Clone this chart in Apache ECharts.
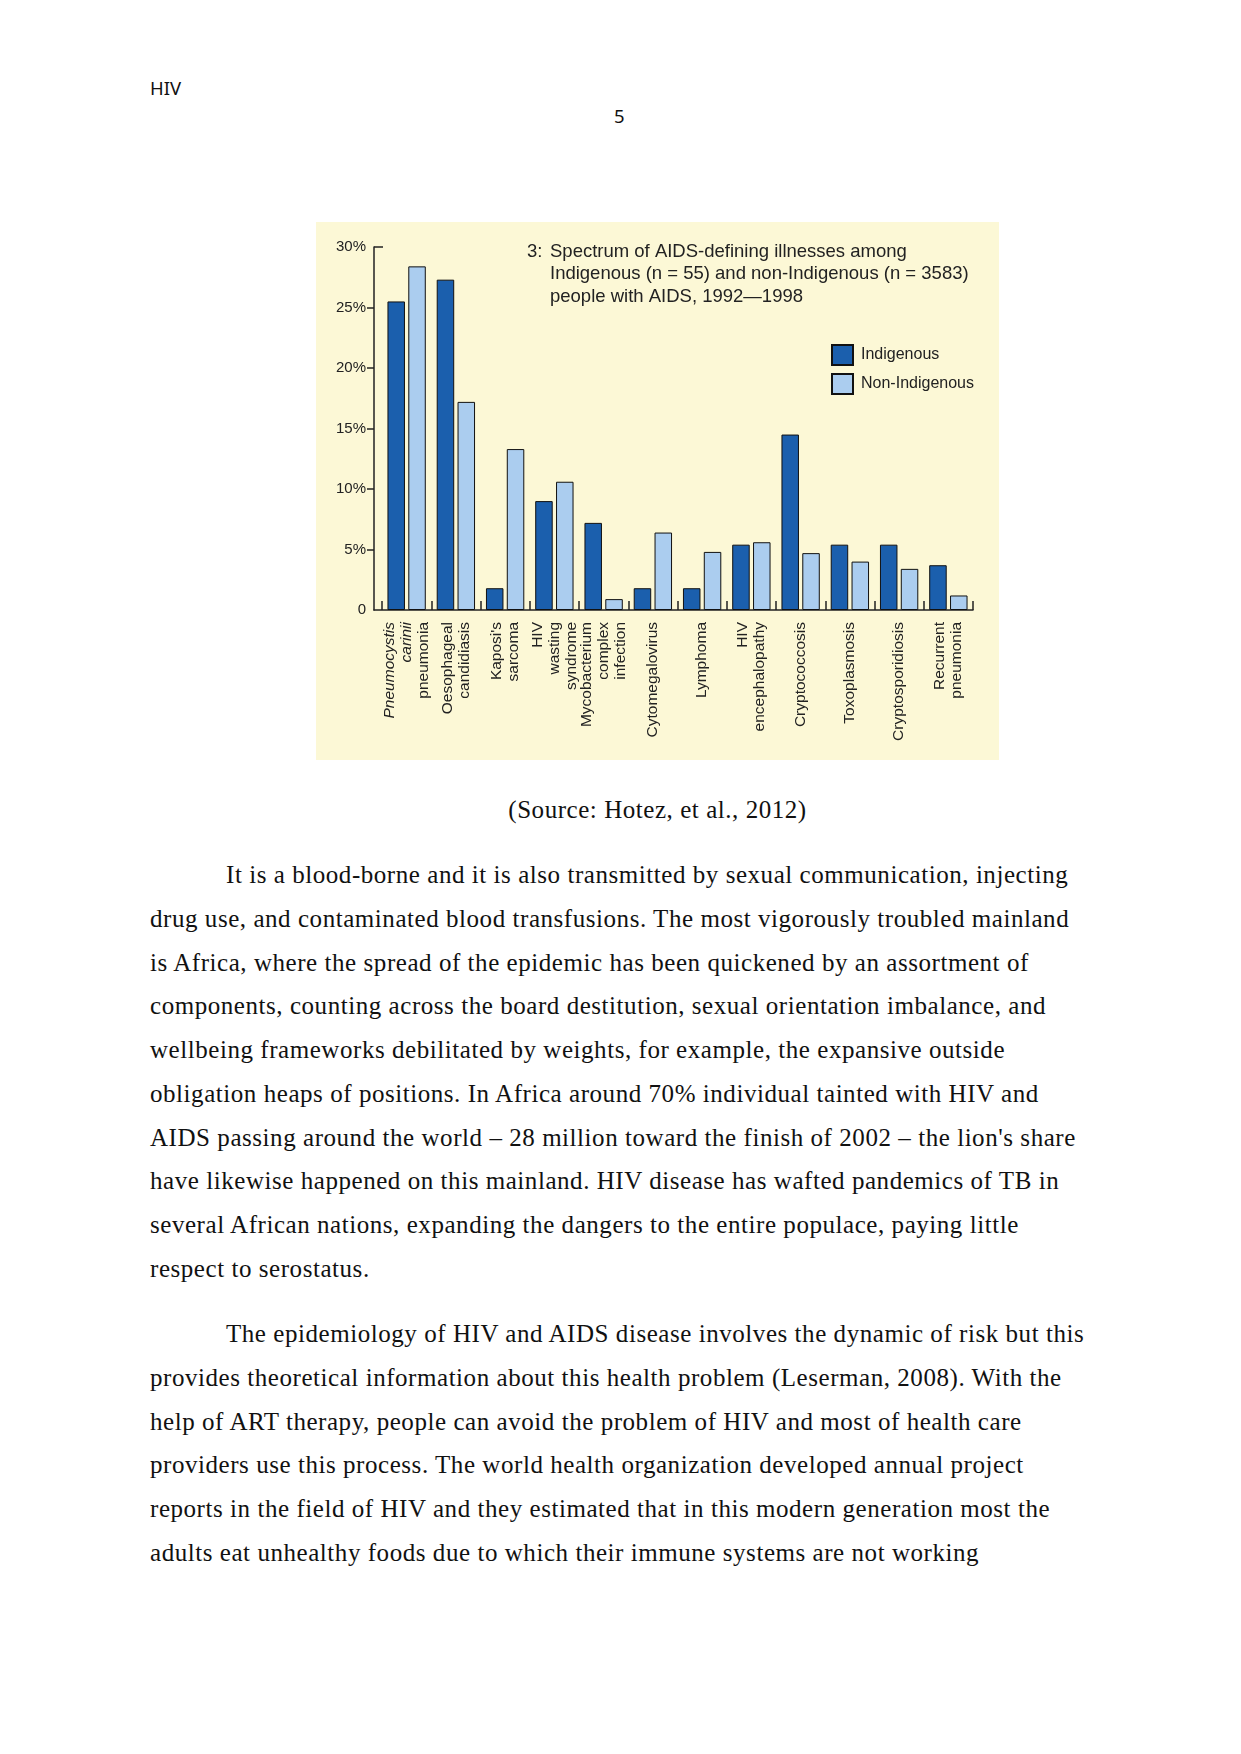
<!DOCTYPE html>
<html>
<head>
<meta charset="utf-8">
<script src="https://cdn.jsdelivr.net/npm/echarts@6/dist/echarts.min.js"></script>
<style>
  html, body { margin:0; padding:0; background:#fff; }
  body { width:1241px; height:1754px; position:relative; overflow:hidden; }
  .hdr { position:absolute; font-family:"Noto Sans", sans-serif; font-size:18.5px; line-height:18.5px; color:#111; white-space:nowrap; }
  .serif { position:absolute; font-family:"Liberation Serif", serif; font-size:25px; letter-spacing:0.55px; color:#111; white-space:nowrap; }
  .para { position:absolute; left:150px; font-family:"Liberation Serif", serif; font-size:25px; letter-spacing:0.55px; line-height:43.75px; color:#111; }
  .para div { white-space:nowrap; }
  .para .ind { padding-left:76px; }
  #chart { position:absolute; left:316px; top:222px; width:683px; height:538px; }
</style>
</head>
<body>
<div class="hdr" style="left:150px; top:79px;">HIV</div>
<div class="hdr" style="left:614px; top:107px;">5</div>
<div id="chart"></div>
<div class="serif" style="left:316px; width:683px; text-align:center; top:795px; line-height:30px;">(Source: Hotez, et al., 2012)</div>
<div class="para" style="top:853px;">
  <div class="ind">It is a blood-borne and it is also transmitted by sexual communication, injecting</div>
  <div>drug use, and contaminated blood transfusions. The most vigorously troubled mainland</div>
  <div>is Africa, where the spread of the epidemic has been quickened by an assortment of</div>
  <div>components, counting across the board destitution, sexual orientation imbalance, and</div>
  <div>wellbeing frameworks debilitated by weights, for example, the expansive outside</div>
  <div>obligation heaps of positions. In Africa around 70% individual tainted with HIV and</div>
  <div>AIDS passing around the world – 28 million toward the finish of 2002 – the lion's share</div>
  <div>have likewise happened on this mainland. HIV disease has wafted pandemics of TB in</div>
  <div>several African nations, expanding the dangers to the entire populace, paying little</div>
  <div>respect to serostatus.</div>
</div>
<div class="para" style="top:1312px;">
  <div class="ind">The epidemiology of HIV and AIDS disease involves the dynamic of risk but this</div>
  <div>provides theoretical information about this health problem (Leserman, 2008). With the</div>
  <div>help of ART therapy, people can avoid the problem of HIV and most of health care</div>
  <div>providers use this process. The world health organization developed annual project</div>
  <div>reports in the field of HIV and they estimated that in this modern generation most the</div>
  <div>adults eat unhealthy foods due to which their immune systems are not working</div>
</div>
<script>
const categories = [
  '{i|Pneumocystis}\n{i|carinii}\npneumonia',
  'Oesophageal\ncandidiasis',
  "Kaposi's\nsarcoma",
  'HIV\nwasting\nsyndrome',
  'Mycobacterium\ncomplex\ninfection',
  'Cytomegalovirus',
  'Lymphoma',
  'HIV\nencephalopathy',
  'Cryptococcosis',
  'Toxoplasmosis',
  'Cryptosporidiosis',
  'Recurrent\npneumonia'
];
const indigenous    = [25.5, 27.3, 1.8, 9.0, 7.2, 1.8, 1.8, 5.4, 14.5, 5.4, 5.4, 3.7];
const nonIndigenous = [28.4, 17.2, 13.3, 10.6, 0.9, 6.4, 4.8, 5.6, 4.7, 4.0, 3.4, 1.2];
const yTicks = [0, 5, 10, 15, 20, 25, 30];
const seriesNames = ['Indigenous', 'Non-Indigenous'];
const titleLines = [
  'Spectrum of AIDS-defining illnesses among',
  'Indigenous (n = 55) and non-Indigenous (n = 3583)',
  'people with AIDS, 1992\u20141998'
];

const FONT = '"Liberation Sans", Arial, sans-serif';
const AX = '#222';
const Y_MIN = yTicks[0], Y_MAX = yTicks[yTicks.length - 1];
const chart = echarts.init(document.getElementById('chart'), null, {renderer: 'canvas'});
const titleY = [31, 53.5, 76];
const graphics = [{
  type: 'text', left: 211, top: titleY[0] - 11,
  style: {text: '3:', fontSize: 18.5, fontFamily: FONT, fill: AX}
}].concat(titleLines.map((t, i) => ({
  type: 'text', left: 234, top: titleY[i] - 11,
  style: {text: t, fontSize: 18.5, fontFamily: FONT, fill: AX}
})));

chart.setOption({
  animation: false,
  backgroundColor: '#fcf8d6',
  grid: [
    {left: 66, top: 25, width: 591, height: 363},
    {left: 58, top: 25, width: 599, height: 363}
  ],
  legend: {
    data: seriesNames, orient: 'vertical', left: 510, top: 117,
    itemWidth: 21, itemHeight: 20, itemGap: 7, icon: 'rect',
    textStyle: {fontSize: 16, fontFamily: FONT, color: AX, padding: [0, 0, 0, 3]}
  },
  xAxis: [{
    gridIndex: 0, type: 'category', data: categories,
    axisLine: {show: false},
    axisTick: {show: true, inside: true, length: 9, lineStyle: {color: AX, width: 1.5}},
    axisLabel: {
      rotate: 90, margin: 12, interval: 0, fontSize: 15.5, lineHeight: 17,
      fontFamily: FONT, color: AX,
      rich: {i: {fontStyle: 'italic', fontSize: 15.5, lineHeight: 17, fontFamily: FONT, color: AX}}
    }
  }, {
    gridIndex: 1, type: 'value', min: 0, max: 1,
    axisLine: {show: true, lineStyle: {color: AX, width: 1.5}},
    axisTick: {show: false}, axisLabel: {show: false}, splitLine: {show: false}
  }],
  yAxis: [{
    gridIndex: 0, type: 'value', min: Y_MIN, max: Y_MAX, interval: 5,
    axisLine: {show: false}, axisTick: {show: false}, axisLabel: {show: false}, splitLine: {show: false}
  }, {
    gridIndex: 1, type: 'value', min: Y_MIN, max: Y_MAX, interval: 5,
    splitLine: {show: false},
    axisLine: {show: true, lineStyle: {color: AX, width: 1.5}},
    axisTick: {show: true, length: 7, customValues: yTicks.slice(1, -1), lineStyle: {color: AX, width: 1.5}},
    axisLabel: {margin: 8, fontSize: 15, fontFamily: FONT, color: AX,
      formatter: v => v === 0 ? '0' : v + '%'}
  }, {
    gridIndex: 1, type: 'value', min: Y_MIN, max: Y_MAX, interval: 5, position: 'left',
    splitLine: {show: false}, axisLine: {show: false}, axisLabel: {show: false},
    axisTick: {show: true, inside: true, length: 9, customValues: [Y_MAX], lineStyle: {color: AX, width: 1.5}}
  }],
  series: [{
    name: seriesNames[0], type: 'bar', data: indigenous, barWidth: 17.5, barGap: '19%',
    xAxisIndex: 0, yAxisIndex: 0,
    itemStyle: {color: '#1b5fad', borderColor: '#111', borderWidth: 1}
  }, {
    name: seriesNames[1], type: 'bar', data: nonIndigenous, barWidth: 17.5, barGap: '19%',
    xAxisIndex: 0, yAxisIndex: 0,
    itemStyle: {color: '#abcdef', borderColor: '#111', borderWidth: 1}
  }],
  graphic: graphics
});
</script>
</body>
</html>
